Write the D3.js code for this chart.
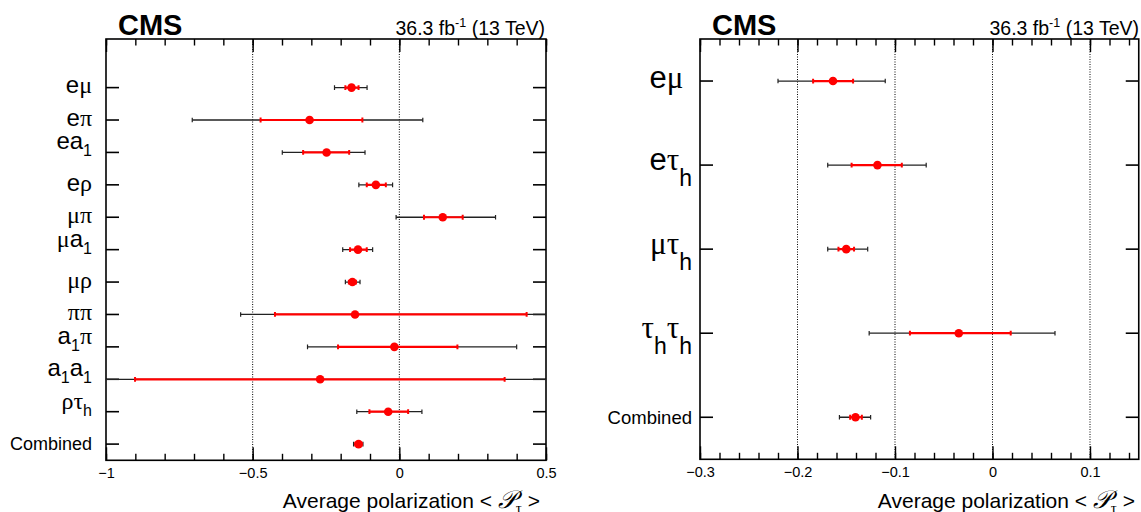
<!DOCTYPE html>
<html><head><meta charset="utf-8">
<script src="https://cdn.jsdelivr.net/npm/d3@7"></script>
<style>body{margin:0;background:#fff}svg{display:block}</style>
</head><body>
<svg id="c" width="1141" height="512"></svg>
<script>
// ---------- data: left panel (per channel) ----------
const channelsL = ["eμ","eπ","ea_1","eρ","μπ","μa_1","μρ","ππ","a_1π","a_1a_1","ρτ_h","Combined"];
const valueL  = [-0.163,-0.306,-0.248,-0.080, 0.148,-0.141,-0.160,-0.151,-0.017,-0.270,-0.038,-0.139];
const statLoL = [-0.184,-0.473,-0.328,-0.111, 0.084,-0.168,-0.172,-0.424,-0.209,-0.901,-0.102,-0.150];
const statHiL = [-0.139,-0.126,-0.171,-0.046, 0.216,-0.111,-0.148, 0.434, 0.198, 0.359, 0.030,-0.129];
const totLoL  = [-0.221,-0.706,-0.399,-0.138,-0.011,-0.193,-0.184,-0.541,-0.313,-1.100,-0.145,-0.156];
const totHiL  = [-0.110, 0.080,-0.117,-0.023, 0.328,-0.091,-0.134, 0.560, 0.400, 0.600, 0.077,-0.124];
const ticksL  = [-1,-0.5,0,0.5];
const gridL   = [-0.5,0];

// ---------- data: right panel (per final state) ----------
const channelsR = ["eμ\u00a0","eτ_h","μτ_h","τ_hτ_h","Combined"];
const valueR  = [-0.1636,-0.118,-0.150,-0.0346,-0.1405];
const statLoR = [-0.184,-0.1445,-0.158,-0.0847,-0.146];
const statHiR = [-0.143,-0.093,-0.142, 0.0187,-0.134];
const totLoR  = [-0.220,-0.169,-0.169,-0.1265,-0.157];
const totHiR  = [-0.110,-0.068,-0.128, 0.0641,-0.125];
const ticksR  = [-0.3,-0.2,-0.1,0,0.1];
const gridR   = [-0.2,-0.1,0,0.1];

const cmsText = "CMS";
const lumiMain = "36.3 fb", lumiSup = "-1", lumiTail = " (13 TeV)";
const xTitle = "Average polarization < ", xTitleP = "𝒫", xTitleSub = "τ", xTitleEnd = " >";

const SANS = "'Liberation Sans', Arial, Helvetica, sans-serif";
const SERIF = "'Liberation Serif', 'Times New Roman', serif";
const GREEK = /[α-ωΑ-Ω]/;

const svg = d3.select("#c");
svg.append("rect").attr("width",1141).attr("height",512).attr("fill","#fff");

function panel(cfg, labels, val, sLo, sHi, tLo, tHi, ticks, grid) {
  const n = labels.length;
  const x = d3.scaleLinear().domain(cfg.xdom).range([cfg.x0, cfg.x1]);
  const y = d3.scaleLinear().domain([0, cfg.ytop]).range([cfg.y1, cfg.y0]);
  const rowY = i => y(n - i - 0.5);
  const g = svg.append("g");
  const clipId = "clip" + cfg.id;
  g.append("clipPath").attr("id", clipId).append("rect")
    .attr("x", cfg.x0).attr("y", cfg.y0).attr("width", cfg.x1 - cfg.x0).attr("height", cfg.y1 - cfg.y0);

  // dotted grid
  g.selectAll(".grid").data(grid).join("line")
    .attr("x1", d => x(d)).attr("x2", d => x(d)).attr("y1", cfg.y0).attr("y2", cfg.y1)
    .attr("stroke", "#000").attr("stroke-width", 1).attr("stroke-dasharray", "1,1.5");

  // minor ticks
  const [a, b] = cfg.xdom;
  const minor = d3.range(Math.round(a / cfg.minor), Math.round(b / cfg.minor) + 1).map(k => +(k * cfg.minor).toFixed(4));
  const axB = g.append("g").attr("transform", `translate(0,${cfg.y1})`)
    .call(d3.axisBottom(x).tickValues(minor).tickSize(-6.5).tickFormat(""));
  const axT = g.append("g").attr("transform", `translate(0,${cfg.y0})`)
    .call(d3.axisTop(x).tickValues(minor).tickSize(-6.5).tickFormat(""));
  const axBM = g.append("g").attr("transform", `translate(0,${cfg.y1})`)
    .call(d3.axisBottom(x).tickValues(ticks).tickSize(-13).tickPadding(7).tickFormat(d3.format("~g")));
  const axTM = g.append("g").attr("transform", `translate(0,${cfg.y0})`)
    .call(d3.axisTop(x).tickValues(ticks).tickSize(-13).tickFormat(""));
  [axB, axT, axBM, axTM].forEach(ax => {
    ax.select(".domain").remove();
    ax.selectAll(".tick line").attr("stroke", "#000").attr("stroke-width", 1.4);
  });
  axBM.selectAll("text").attr("font-family", SANS).attr("font-size", 14.5).attr("fill", "#000");

  // y ticks (both sides, inward)
  const rows = d3.range(n);
  g.selectAll(".ytl").data(rows).join("line")
    .attr("x1", cfg.x0).attr("x2", cfg.x0 + 13).attr("y1", rowY).attr("y2", rowY)
    .attr("stroke", "#000").attr("stroke-width", 1.6);
  g.selectAll(".ytr").data(rows).join("line")
    .attr("x1", cfg.x1 - 13).attr("x2", cfg.x1).attr("y1", rowY).attr("y2", rowY)
    .attr("stroke", "#000").attr("stroke-width", 1.6);

  // frame
  g.append("rect").attr("x", cfg.x0).attr("y", cfg.y0)
    .attr("width", cfg.x1 - cfg.x0).attr("height", cfg.y1 - cfg.y0)
    .attr("fill", "none").attr("stroke", "#000").attr("stroke-width", 1.6);

  // error bars
  const eb = g.append("g").attr("clip-path", `url(#${clipId})`);
  eb.selectAll(".tot").data(rows).join("line")
    .attr("x1", i => x(tLo[i])).attr("x2", i => x(tHi[i])).attr("y1", rowY).attr("y2", rowY)
    .attr("stroke", "#222").attr("stroke-width", 1.3);
  eb.selectAll(".totc").data(rows.flatMap(i => [[i, tLo[i]], [i, tHi[i]]])).join("line")
    .attr("x1", d => x(d[1])).attr("x2", d => x(d[1]))
    .attr("y1", d => rowY(d[0]) - 2.3).attr("y2", d => rowY(d[0]) + 2.3)
    .attr("stroke", "#222").attr("stroke-width", 1.2);
  eb.selectAll(".stat").data(rows).join("line")
    .attr("x1", i => x(sLo[i])).attr("x2", i => x(sHi[i])).attr("y1", rowY).attr("y2", rowY)
    .attr("stroke", "#ff0000").attr("stroke-width", 2.2);
  eb.selectAll(".statc").data(rows.flatMap(i => [[i, sLo[i]], [i, sHi[i]]])).join("line")
    .attr("x1", d => x(d[1])).attr("x2", d => x(d[1]))
    .attr("y1", d => rowY(d[0]) - 2.4).attr("y2", d => rowY(d[0]) + 2.4)
    .attr("stroke", "#ff0000").attr("stroke-width", 2);
  eb.selectAll(".pt").data(rows).join("circle")
    .attr("cx", i => x(val[i])).attr("cy", rowY).attr("r", 4.3).attr("fill", "#ff0000");

  // y labels
  rows.forEach(i => {
    const s = labels[i];
    const hasSub = s.includes("_");
    const isWord = !GREEK.test(s) && !hasSub && s.length > 3;
    const fs = isWord ? cfg.wordFs : cfg.fs;
    const base = rowY(i) + (isWord ? cfg.wordOff : (hasSub ? cfg.subOff : cfg.off));
    const t = g.append("text").attr("x", cfg.labX).attr("y", base)
      .attr("text-anchor", "end").attr("font-family", SANS).attr("font-size", fs).attr("fill", "#000");
    let k = 0, prevSub = false;
    while (k < s.length) {
      let ch = s[k], sub = false;
      if (ch === "_") { sub = true; ch = s[k + 1]; k += 2; } else { k += 1; }
      const ts = t.append("tspan").text(ch);
      if (GREEK.test(ch)) ts.attr("font-family", SERIF);
      if (sub) ts.attr("font-size", cfg.subFs).attr("dy", prevSub ? 0 : cfg.drop);
      else if (prevSub) ts.attr("dy", -cfg.drop);
      prevSub = sub;
    }
  });

  // CMS + lumi
  g.append("text").attr("x", cfg.x0 + 12).attr("y", 35).text(cmsText)
    .attr("font-family", SANS).attr("font-weight", "bold").attr("font-size", 29).attr("fill", "#000");
  const lt = g.append("text").attr("x", cfg.lumiX).attr("y", 35).attr("text-anchor", "end")
    .attr("font-family", SANS).attr("font-size", 19.5).attr("fill", "#000");
  lt.append("tspan").text(lumiMain);
  lt.append("tspan").text(lumiSup).attr("font-size", 12.5).attr("dy", -8);
  lt.append("tspan").text(lumiTail).attr("dy", 8);

  // x title
  const xt = g.append("text").attr("x", cfg.titleX).attr("y", 508).attr("text-anchor", "end")
    .attr("font-family", SANS).attr("font-size", 21).attr("fill", "#000");
  xt.append("tspan").text(xTitle);
  xt.append("tspan").text(xTitleP).attr("font-family", "'DejaVu Serif', " + SERIF).attr("font-style", "italic").attr("font-size", 25);
  xt.append("tspan").text(xTitleSub).attr("font-family", SERIF).attr("font-size", 15).attr("dy", 5);
  xt.append("tspan").text(xTitleEnd).attr("dy", -5);
}

panel({id:"L", xdom:[-1,0.5], x0:106, x1:546, y0:39, y1:460.3, ytop:13, minor:0.1,
       labX:92, fs:24, subFs:16, drop:7, off:5.7, subOff:-3, wordFs:18, wordOff:6.3,
       lumiX:545, titleX:540},
      channelsL, valueL, statLoL, statHiL, totLoL, totHiL, ticksL, gridL);

panel({id:"R", xdom:[-0.3,0.15], x0:700, x1:1138.75, y0:39, y1:459.3, ytop:5, minor:0.02,
       labX:692, fs:31, subFs:23, drop:16, off:7, subOff:5, wordFs:18.5, wordOff:7,
       lumiX:1139, titleX:1135},
      channelsR, valueR, statLoR, statHiR, totLoR, totHiR, ticksR, gridR);
</script>
</body></html>
